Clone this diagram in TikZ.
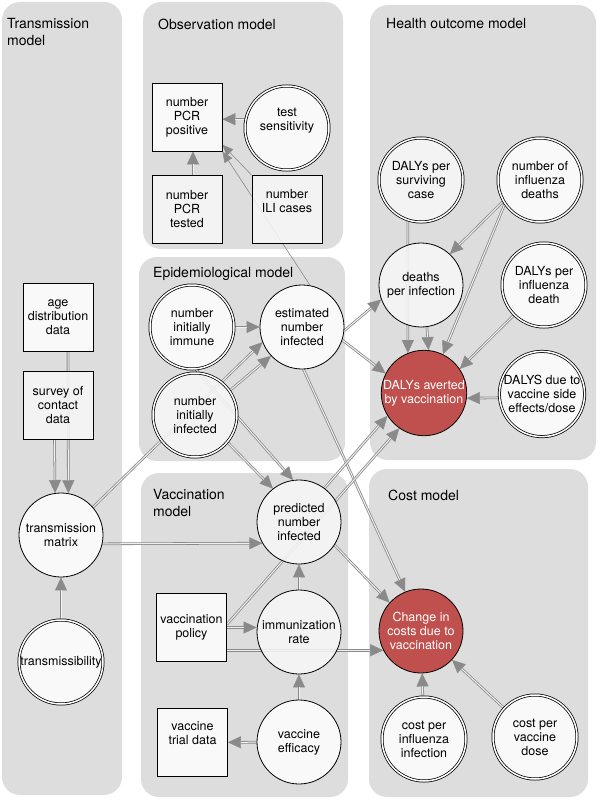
\documentclass[tikz,border=0pt]{standalone}
\usepackage{fontspec}
\setmainfont{TeX Gyre Heros}
\usetikzlibrary{arrows.meta,calc,positioning,backgrounds}
\definecolor{PanelGray}{HTML}{DDDDDD}
\definecolor{NodeLight}{HTML}{F7F7F7}
\definecolor{EdgeGray}{HTML}{8A8A8A}
\definecolor{DalyRed}{HTML}{C0504D}
\pgfdeclarelayer{back}
\pgfdeclarelayer{edges}
\pgfsetlayers{back,edges,main}
\tikzset{
    panel/.style = {fill=PanelGray, rounded corners=18pt},
    paneltitle/.style = {anchor=north west, inner sep=0pt, align=left,
        font=\fontsize{14}{17}\selectfont},
    block/.style = {draw, rectangle, line width=0.8pt, fill=white,
        fill opacity=0.85, text opacity=1,
        minimum width=70pt, minimum height=68pt, inner sep=0pt, align=center},
    var/.style = {draw, circle, line width=0.8pt, fill=white,
        fill opacity=0.85, text opacity=1,
        minimum size=84pt, inner sep=0pt, align=center},
    prior/.style = {var, line width=0.75pt, double=white, double distance=1.5pt},
    light/.style = {fill=NodeLight},
    goal/.style = {var, fill=DalyRed, fill opacity=1, text=white},
    link/.style = {draw=EdgeGray, line width=2.6pt,
        -{Triangle[length=13pt,width=12pt,line width=0.4pt]},
        postaction={draw=white!88!gray, line width=1pt, shorten >=13pt, -}},
    thinlink/.style = {draw=EdgeGray, line width=0.6pt,
        -{Triangle[length=11pt,width=9pt]}}
}

\begin{document}
\begin{tikzpicture}[x=1pt, y=-1pt, every node/.style={font=\fontsize{12.5}{14}\selectfont}]
    \useasboundingbox (0,0) rectangle (598,800);

    % transmission model
    \node [block, name=agedist] at (58,317.5) {age\\distribution\\data};
    \node [block, light, below of=agedist, node distance=88pt, name=survey] {survey of\\contact\\data};
    \node [var, name=matrix] at (61,535) {transmission\\matrix};
    \node [prior, below of=matrix, node distance=127pt, name=transmiss] {transmissibility};

    % observation model
    \node [block, name=pcrpos] at (187,117) {number\\PCR\\positive};
    \node [block, light, below of=pcrpos, node distance=92.5pt, name=pcrtest] {number\\PCR\\tested};
    \node [block, light, right of=pcrtest, node distance=100pt, name=ili] {number\\ILI cases\\[4pt]\mbox{}};
    \node [prior, name=testsens] at (287,128) {test\\sensitivity\\[4pt]\mbox{}};

    % epidemiological model
    \node [prior, name=immune] at (192,327) {number\\initially\\immune};
    \node [var, right of=immune, node distance=110pt, name=estimated] {estimated\\number\\infected};
    \node [prior, light, name=infected] at (195,415) {number\\initially\\infected};

    % vaccination model
    \node [var, light, name=predicted] at (299,522) {predicted\\number\\infected};
    \node [var, light, below of=predicted, node distance=110pt, name=immrate] {immunization\\rate};
    \node [var, below of=immrate, node distance=110pt, name=efficacy] {vaccine\\efficacy};
    \node [block, name=policy] at (191.5,627.5) {vaccination\\policy};
    \node [block, name=trial] at (192.5,742.5) {vaccine\\trial data\\[4pt]\mbox{}};

    % health outcome model
    \node [prior, light, name=surviving] at (421,180) {DALYs per\\surviving\\case};
    \node [prior, right of=surviving, node distance=119pt, name=infdeaths] {number of\\influenza\\deaths};
    \node [var, light, below of=surviving, node distance=105pt, name=deathsper] {deaths\\per infection};
    \node [prior, name=dalydeath] at (544,285) {DALYs per\\influenza\\death};
    \node [goal, name=averted] at (424,393) {DALYs averted\\by vaccination};
    \node [prior, name=sideeff] at (542,394) {DALYS due to\\vaccine side\\effects/dose};

    % cost model
    \node [goal, name=costchange] at (421,631) {Change in\\costs due to\\vaccination};
    \node [prior, name=costinf] at (424,739) {cost per\\influenza\\infection};
    \node [prior, name=costdose] at (535,737) {cost per\\vaccine\\dose};

    % titles
    \node [paneltitle] at (7,18.5) {Transmission\\model};
    \node [paneltitle] at (158,18.5) {Observation model};
    \node [paneltitle] at (386,18.5) {Health outcome model};
    \node [paneltitle] at (153,267.5) {Epidemiological model};
    \node [paneltitle] at (153,489.5) {Vaccination\\model};
    \node [paneltitle] at (388,489.5) {Cost model};

    \begin{pgfonlayer}{back}
        \fill [panel] (2,2) rectangle (122,795);
        \fill [panel] (143,2) rectangle (343,249);
        \fill [panel] (139,257) rectangle (345,461);
        \fill [panel] (141,473) rectangle (348,797);
        \fill [panel] (370,5) rectangle (596,460);
        \fill [panel] (369,469) rectangle (588,797);
    \end{pgfonlayer}

    \begin{pgfonlayer}{edges}
        \draw [link] (testsens.168) -- (testsens.168 -| pcrpos.east);
        \draw [link] ([xshift=6pt]pcrtest.north) -- ([xshift=6pt]pcrpos.south);
        \draw [thinlink] (ili.north west) -- (pcrpos.-38);
        \draw [thinlink] (estimated.79) -- (pcrpos.south east);
        \draw [link] ([xshift=10pt]agedist.south) -- (matrix.80);
        \draw [link] ([xshift=-3.5pt]survey.south) -- (matrix.98);
        \draw [link] (transmiss) -- (matrix);
        \draw [link] (matrix.41) -- (estimated.201);
        \draw [link] (infected.35) -- (estimated.223);
        \draw [link] (immune) -- (estimated);
        \draw [link] (immune.-85) -- (predicted.98);
        \draw [link] (infected.-40) -- (predicted.128);
        \draw [link] (matrix.-12) -- (predicted.210);
        \draw [link] (estimated.-5) -- (deathsper.200);
        \draw [link] (estimated.-18) -- (averted.153);
        \draw [link] (estimated.-88) -- (costchange.112);
        \draw [link] (surviving.-108) -- (averted.112);
        \draw [link] (deathsper.-82) -- (averted.84);
        \draw [link] (infdeaths.210) -- (deathsper.47);
        \draw [link] (infdeaths.214) -- (averted.64);
        \draw [link] (dalydeath.225) -- (averted.34);
        \draw [link] (sideeff.185) -- (averted.-7);
        \draw [link] (predicted.53) -- (averted.212);
        \draw [link] (policy.5) -- (averted.235);
        \draw [link] (policy.east) -- (policy.east -| immrate.west);
        \draw [link] (policy.east |- costchange.207) -- (costchange.207);
        \draw [link] (predicted.-33) -- (costchange.138);
        \draw [link] (immrate) -- (predicted);
        \draw [link] (efficacy) -- (immrate);
        \draw [link] (efficacy) -- (trial);
        \draw [link] (costinf) -- (costchange);
        \draw [link] (costdose) -- (costchange);
    \end{pgfonlayer}
\end{tikzpicture}
\end{document}
